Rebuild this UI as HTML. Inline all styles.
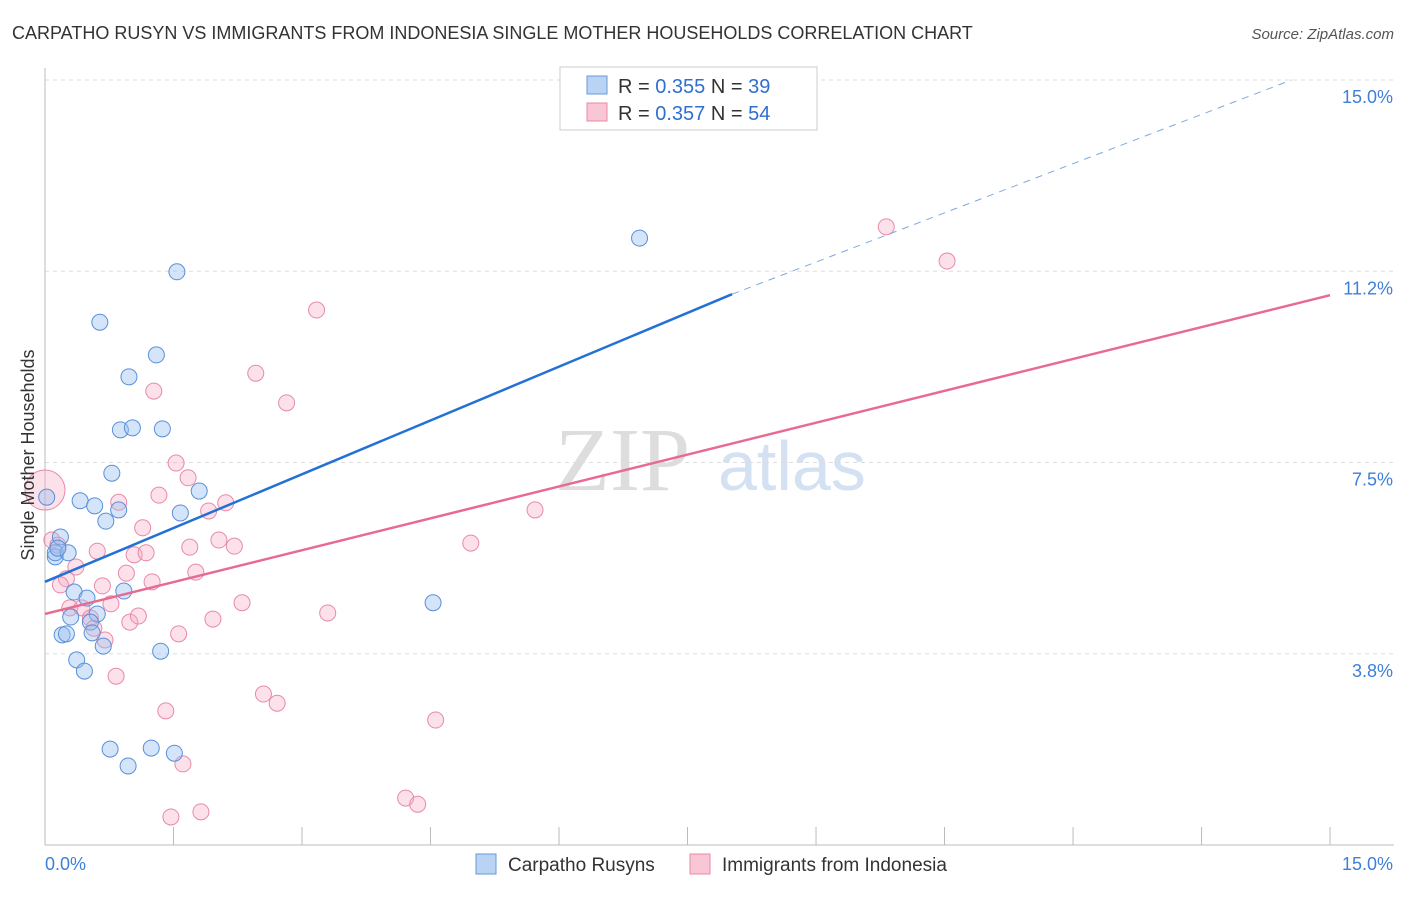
<!DOCTYPE html>
<html><head><meta charset="utf-8"><style>
body{margin:0;background:#fff;font-family:"Liberation Sans",sans-serif}
</style></head><body>
<svg id="chart" width="1406" height="892" viewBox="0 0 1406 892" xmlns="http://www.w3.org/2000/svg" font-family="Liberation Sans, sans-serif">
<text x="12" y="39" font-size="18" fill="#333">CARPATHO RUSYN VS IMMIGRANTS FROM INDONESIA SINGLE MOTHER HOUSEHOLDS CORRELATION CHART</text>
<text x="1394" y="39" font-size="15" fill="#555" text-anchor="end" font-style="italic">Source: ZipAtlas.com</text>
<g>
<text x="555" y="490" font-size="90" fill="#ddd" font-family="Liberation Serif, serif">ZIP</text>
<text x="718" y="490" font-size="70" fill="#d3e1f3">atlas</text>
</g>
<g id="grid"></g>
<g id="axes"></g>
<g id="points"></g>
<g id="lines"></g>
<text transform="translate(34,455) rotate(-90)" font-size="18" fill="#333" text-anchor="middle">Single Mother Households</text>
<g>
<rect x="560" y="67" width="257" height="63" fill="#fff" stroke="#ccc"/>
<rect x="587" y="76" width="20" height="18" fill="#b9d3f5" stroke="#6a9ad8"/>
<text x="618" y="93" font-size="20" fill="#333">R = <tspan fill="#2f6fd0">0.355</tspan>   N = <tspan fill="#2f6fd0">39</tspan></text>
<rect x="587" y="103" width="20" height="18" fill="#f9c6d5" stroke="#e88aa8"/>
<text x="618" y="120" font-size="20" fill="#333">R = <tspan fill="#2f6fd0">0.357</tspan>   N = <tspan fill="#2f6fd0">54</tspan></text>
</g>
<g>
<rect x="476" y="854" width="20" height="20" fill="#b9d3f5" stroke="#6a9ad8"/>
<text x="508" y="871" font-size="19" fill="#333">Carpatho Rusyns</text>
<rect x="690" y="854" width="20" height="20" fill="#f9c6d5" stroke="#e88aa8"/>
<text x="722" y="871" font-size="19" fill="#333">Immigrants from Indonesia</text>
</g>
</svg>
<script>
const yTicks=[3.75,7.5,11.25,15];
const yTickLabels=["3.8%","7.5%","11.2%","15.0%"];
const xTicks=[0,1.5,3,4.5,6,7.5,9,10.5,12,13.5,15];
const blueX=[0.12,0.12,0.18,0.27,0.41,0.58,0.71,0.86,0.78,0.88,1.02,1.37,0.98,1.30,0.64,1.54,6.94,1.80,1.58,0.34,0.49,0.30,0.61,0.53,0.20,0.25,0.55,0.68,0.37,0.46,0.92,1.35,0.76,1.24,1.51,0.97,4.53,0.02,0.15];
const blueY=[5.65,5.73,6.04,5.73,6.75,6.65,6.35,6.57,7.29,8.14,8.18,8.16,9.18,9.61,10.25,11.24,11.90,6.94,6.51,4.96,4.84,4.47,4.53,4.37,4.12,4.14,4.16,3.90,3.63,3.41,4.98,3.80,1.88,1.90,1.80,1.55,4.75,6.82,5.82];
const pinkX=[0.0,0.08,0.15,0.25,0.36,0.29,0.43,0.53,0.57,0.70,0.61,0.67,0.77,0.83,0.86,0.95,0.99,1.09,1.04,1.18,1.14,1.25,1.33,1.27,1.53,1.67,1.69,1.76,1.91,2.11,2.03,2.21,1.96,2.30,1.56,1.41,1.61,1.47,1.82,2.46,2.82,3.17,2.55,2.71,3.30,4.56,4.97,5.72,4.21,4.35,9.82,10.53,0.18];
const pinkY=[6.96,5.98,5.88,5.22,5.45,4.65,4.65,4.45,4.25,4.02,5.76,5.08,4.73,3.31,6.72,5.33,4.37,4.49,5.69,5.73,6.22,5.16,6.86,8.90,7.49,7.20,5.84,5.35,6.55,6.71,5.98,5.86,4.43,4.75,4.14,2.63,1.59,0.55,0.65,9.25,8.67,10.49,2.96,2.78,4.55,2.45,5.92,6.57,0.92,0.80,12.12,11.45,5.10];
const blueLine=[[0,5.16],[8.02,10.8]];
const blueDash=[[8.02,10.8],[14.55,15.0]];
const pinkLine=[[0,4.53],[15,10.78]];
const NS="http://www.w3.org/2000/svg";
const sx=v=>45+v*85.67, sy=v=>845-v*51.0;
function mk(tag,attrs,parent){const e=document.createElementNS(NS,tag);for(const k in attrs)e.setAttribute(k,attrs[k]);document.getElementById(parent).appendChild(e);return e;}
yTicks.forEach((t,i)=>{
 const l=mk('line',{x1:45,x2:1394,y1:sy(t),y2:sy(t),stroke:'#ddd','stroke-dasharray':'4,4'},'grid');
 
 
 const tx=mk('text',{x:1393,y:sy(t)+23,'font-size':18,fill:'#3d7fd9','text-anchor':'end'},'axes');tx.textContent=yTickLabels[i];
 
 
});
const ax=mk('line',{x1:45,x2:1394,y1:845,y2:845,stroke:'#bbb'},'axes');


const ay=mk('line',{x1:45,x2:45,y1:68,y2:845,stroke:'#bbb'},'axes');


xTicks.forEach(t=>{const l=mk('line',{x1:sx(t),x2:sx(t),y1:827,y2:845,stroke:'#bbb'},'axes');
 
 });
const x0=mk('text',{x:45,y:870,'font-size':18,fill:'#3d7fd9'},'axes');x0.textContent='0.0%';


const x1=mk('text',{x:1393,y:870,'font-size':18,fill:'#3d7fd9','text-anchor':'end'},'axes');x1.textContent='15.0%';


pinkX.forEach((v,i)=>{const c=mk('circle',{cx:sx(v),cy:sy(pinkY[i]),r:i===0?20:8,fill:'rgba(245,170,195,0.35)',stroke:'#e88aa8','stroke-width':1},'points');
 
 });
blueX.forEach((v,i)=>{const c=mk('circle',{cx:sx(v),cy:sy(blueY[i]),r:8,fill:'rgba(150,190,240,0.4)',stroke:'#5a8fd8','stroke-width':1},'points');
 
 });
function ln(p,attrs,name){const l=mk('line',Object.assign({x1:sx(p[0][0]),y1:sy(p[0][1]),x2:sx(p[1][0]),y2:sy(p[1][1])},attrs),'lines');
 
 }
ln(blueLine,{stroke:'#2471d6','stroke-width':2.5},'rusyn-trendline');
ln(blueDash,{stroke:'#7fa8de','stroke-width':1,'stroke-dasharray':'7,6'},'rusyn-trendline-extension');
ln(pinkLine,{stroke:'#e86a92','stroke-width':2.5},'indonesia-trendline');
</script>
</body></html>
